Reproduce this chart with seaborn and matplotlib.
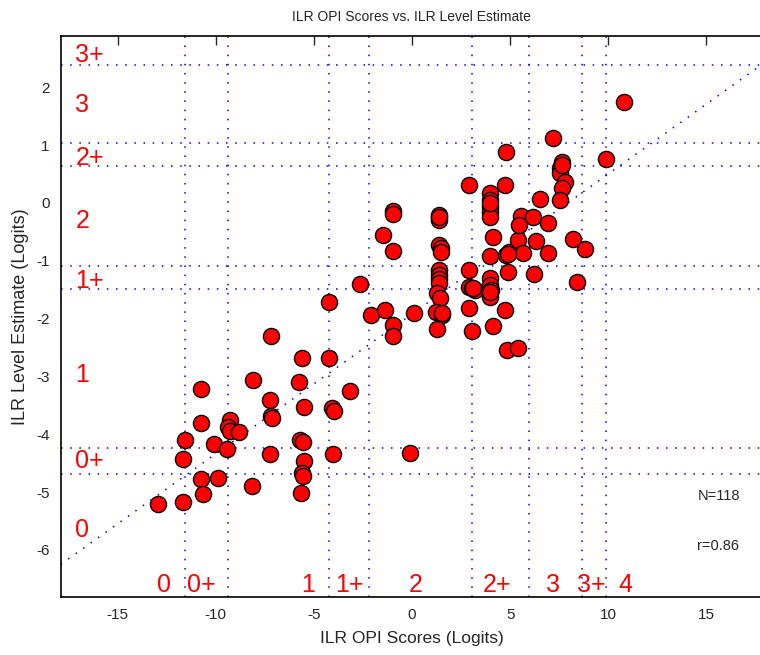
import matplotlib
matplotlib.use("Agg")
import matplotlib.pyplot as plt
import pandas as pd
import seaborn as sns

# OPI score (x) and level estimate (y)
opi_scores = [
    -2.64, -4.22, -7.17, -5.59, -4.22, -8.09, -5.75, -10.74, -7.22, -5.49,
    -3.15, -4.07, -3.96, -7.17, -7.12, -10.74, -9.26, -9.36, -9.26, -8.80,
    -11.55, -10.08, -9.41, -7.22, -5.70, -5.54, -5.49, -5.59, -5.54, -4.01,
    -11.66, -10.74, -9.87, -8.14, -10.64, -11.66, -12.93, -5.64, -0.09,
    -2.08, -1.37, -0.96, -0.96, -1.47, -0.96, -0.96, -0.96, 0.11,
    1.39, 1.39, 1.39, 1.49, 1.49, 1.39, 1.39, 1.39, 1.39, 1.28, 1.44, 1.23, 1.54, 1.28,
    2.88, 2.88, 2.88, 3.05, 3.22, 2.88, 3.05,
    3.98, 3.98, 3.98, 3.98, 3.98, 4.14, 3.98, 3.98, 3.98, 4.03, 3.98, 4.14,
    4.75, 4.80, 4.95, 4.90, 4.75, 4.85, 5.41,
    4.80, 5.41, 5.56, 6.17, 5.46, 5.66, 6.23, 6.33, 6.53, 6.94, 6.94, 7.19,
    7.65, 7.55, 7.55, 7.80, 7.65, 7.55, 8.21, 8.82, 8.42, 9.89, 10.81,
    1.39, 1.51, 3.98, 3.98, 3.10, 7.65, 4.88,
]
level_estimates = [
    -1.40, -1.71, -2.30, -2.68, -2.68, -3.06, -3.09, -3.22, -3.41, -3.53,
    -3.25, -3.54, -3.60, -3.68, -3.72, -3.80, -3.75, -3.87, -3.94, -3.96,
    -4.10, -4.17, -4.25, -4.34, -4.10, -4.13, -4.46, -4.67, -4.72, -4.34,
    -4.43, -4.77, -4.75, -4.89, -5.03, -5.17, -5.20, -5.01, -4.32,
    -1.94, -1.85, -0.14, -0.19, -0.55, -0.83, -2.11, -2.30, -1.90,
    -0.21, -0.29, -0.73, -0.78, -0.85, -1.16, -1.24, -1.31, -1.38, -1.56, -1.64, -1.88, -1.94, -2.18,
    0.31, -1.16, -1.45, -1.47, -1.50, -1.82, -2.21,
    0.17, 0.05, -0.07, -0.16, -0.24, -0.59, -0.92, -1.30, -1.42, -1.50, -1.63, -2.13,
    0.31, -0.90, -0.85, -1.19, -1.85, -2.54, -2.51,
    0.88, -0.64, -0.22, -0.24, -0.38, -0.86, -1.23, -0.66, 0.07, -0.35, -0.86, 1.12,
    0.71, 0.61, 0.52, 0.36, 0.26, 0.05, -0.62, -0.80, -1.37, 0.76, 1.75,
    -0.25, -1.90, 0.00, -1.55, -1.48, 0.66, -0.88,
]

# ILR level boundaries (dotted grid) and their labels
x_bounds = [-11.58, -9.38, -4.21, -2.20, 3.05, 5.97, 8.65, 9.89]
y_bounds = [2.39, 1.03, 0.63, -1.10, -1.49, -4.24, -4.69]
x_level_labels = ["0", "0+", "1", "1+", "2", "2+", "3", "3+", "4"]
x_level_pos = [-12.66, -10.75, -5.28, -3.2, 0.18, 4.35, 7.19, 9.15, 10.85]
y_level_labels = ["3+", "3", "2+", "2", "1+", "1", "0+", "0"]
y_level_pos = [2.56, 1.70, 0.77, -0.31, -1.35, -2.97, -4.47, -5.65]

# regression line end points
fit_x = [-17.9, 17.9]
fit_y = [-6.25, 2.41]

df = pd.DataFrame({"opi": opi_scores, "level": level_estimates})

sns.set_style("white")
plt.rcParams["font.family"] = ["Liberation Sans", "DejaVu Sans"]
plt.rcParams["axes.unicode_minus"] = False

fig = plt.figure(figsize=(7.6, 6.55), dpi=100)
ax = fig.add_axes([0.0799, 0.0881, 0.9245, 0.8574])

dots = dict(color="blue", linewidth=1.1, linestyle=(0, (1, 5)), zorder=1)
for xb in x_bounds:
    ax.axvline(xb, **dots)
for yb in y_bounds:
    ax.axhline(yb, **dots)
ax.plot(fit_x, fit_y, **dots)

sns.scatterplot(data=df, x="opi", y="level", ax=ax, s=135,
                color="red", edgecolor="black", linewidth=1.0, zorder=3)

for lab, yp in zip(y_level_labels, y_level_pos):
    ax.text(-17.15, yp, lab, color="red", fontsize=18, ha="left", va="center")
for lab, xp in zip(x_level_labels, x_level_pos):
    ax.text(xp, -6.6, lab, color="red", fontsize=18, ha="center", va="center")

ax.text(14.55, -5.07, "N=118", fontsize=10.5, ha="left", va="center")
ax.text(14.5, -5.93, "r=0.86", fontsize=10.5, ha="left", va="center")

ax.set_xlim(-17.9, 17.9)
ax.set_ylim(-6.82, 2.89)
ax.set_xticks(range(-15, 16, 5))
ax.set_yticks(range(-6, 3))
ax.tick_params(axis="x", direction="in", top=True, length=6.5, width=1,
               labelsize=11, pad=8)
ax.tick_params(axis="y", direction="in", right=False, length=5.5, width=1,
               labelsize=11, pad=8)
for sp in ax.spines.values():
    sp.set_color("black")
    sp.set_linewidth(1.2)

ax.set_xlabel("ILR OPI Scores (Logits)", fontsize=12.5, labelpad=6)
ax.set_ylabel("ILR Level Estimate (Logits)", fontsize=13, labelpad=5)
fig.text(0.542, 0.974, "ILR OPI Scores vs. ILR Level Estimate",
         fontsize=10, ha="center", va="center")

fig.savefig("out.png", dpi=100)
